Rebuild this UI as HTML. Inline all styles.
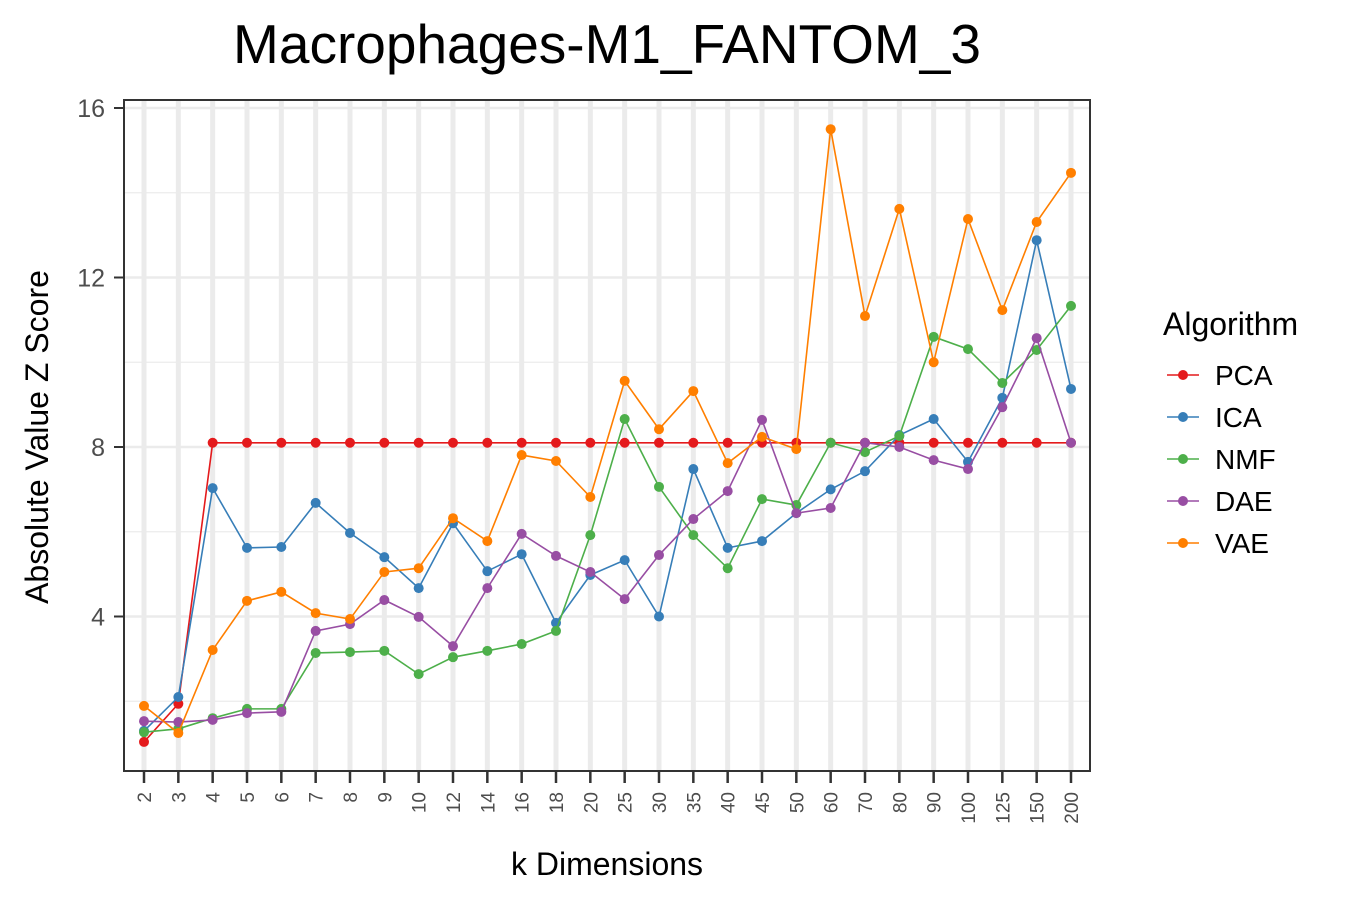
<!DOCTYPE html>
<html><head><meta charset="utf-8"><style>
body{margin:0;background:#fff;font-family:"Liberation Sans",Arial,sans-serif}
</style></head><body>
<svg id="chart" width="1350" height="900" xmlns="http://www.w3.org/2000/svg" font-family="Liberation Sans, Arial, sans-serif">
<text x="607" y="63" font-size="55" text-anchor="middle">Macrophages-M1_FANTOM_3</text>
<g id="grid"></g>
<g id="series"></g>
<rect x="124" y="100" width="966" height="671" fill="none" stroke="#333" stroke-width="2"/>
<g id="axes"></g>
<text x="607" y="875" font-size="32" text-anchor="middle">k Dimensions</text>
<text transform="translate(48,437) rotate(-90)" font-size="32" text-anchor="middle">Absolute Value Z Score</text>
<text x="1163" y="335" font-size="32">Algorithm</text>
<g id="legend"></g>
</svg>
<script>
const categories=["2","3","4","5","6","7","8","9","10","12","14","16","18","20","25","30","35","40","45","50","60","70","80","90","100","125","150","200"];
const yTicks=[4,8,12,16];
const seriesNames=["PCA","ICA","NMF","DAE","VAE"];
const seriesColors=["#e41a1c","#377eb8","#4daf4a","#984ea3","#ff7f00"];
const pca=[1.04,1.94,8.1,8.1,8.1,8.1,8.1,8.1,8.1,8.1,8.1,8.1,8.1,8.1,8.1,8.1,8.1,8.1,8.1,8.1,8.1,8.1,8.1,8.1,8.1,8.1,8.1,8.1];
const ica=[1.3,2.1,7.03,5.62,5.64,6.68,5.97,5.4,4.67,6.2,5.07,5.47,3.85,4.98,5.33,4.0,7.48,5.62,5.78,6.44,7.0,7.43,8.28,8.66,7.65,9.16,12.88,9.37];
const nmf=[1.27,1.35,1.6,1.82,1.82,3.14,3.16,3.19,2.64,3.04,3.19,3.35,3.66,5.92,8.66,7.06,5.92,5.14,6.77,6.63,8.1,7.88,8.26,10.6,10.31,9.51,10.29,11.33];
const dae=[1.53,1.51,1.56,1.72,1.75,3.66,3.82,4.39,3.99,3.3,4.67,5.95,5.43,5.05,4.41,5.45,6.3,6.96,8.64,6.44,6.56,8.1,8.0,7.69,7.48,8.94,10.57,8.1];
const vae=[1.89,1.25,3.21,4.37,4.58,4.08,3.94,5.05,5.14,6.32,5.78,7.81,7.67,6.82,9.56,8.42,9.32,7.62,8.24,7.95,15.5,11.09,13.62,10.0,13.38,11.23,13.31,14.47];
const allSeries=[pca,ica,nmf,dae,vae];
const NS="http://www.w3.org/2000/svg";
const x=i=>144+i*(1071-144)/(categories.length-1);
const y=v=>786-v*(786-108)/16;
function mk(tag,attrs,parent){const e=document.createElementNS(NS,tag);for(const k in attrs)e.setAttribute(k,attrs[k]);parent.appendChild(e);return e;}
const grid=document.getElementById('grid'),axes=document.getElementById('axes'),ser=document.getElementById('series'),leg=document.getElementById('legend');
[2,6,10,14].forEach(v=>{const l=mk('line',{x1:124,x2:1090,y1:y(v),y2:y(v),stroke:'#ebebeb','stroke-width':1.2},grid);

});
yTicks.forEach(v=>{const l=mk('line',{x1:124,x2:1090,y1:y(v),y2:y(v),stroke:'#ebebeb','stroke-width':2.5},grid);


const t=mk('line',{x1:114,x2:124,y1:y(v),y2:y(v),stroke:'#333','stroke-width':2},axes);


const tx=mk('text',{x:105,y:y(v)+9,'font-size':25,'text-anchor':'end',fill:'#4d4d4d'},axes);tx.textContent=v;

});
categories.forEach((c,i)=>{const l=mk('line',{x1:x(i),x2:x(i),y1:100,y2:771,stroke:'#ebebeb','stroke-width':5},grid);


const t=mk('line',{x1:x(i),x2:x(i),y1:771,y2:783,stroke:'#333','stroke-width':2.5},axes);


const tx=mk('text',{transform:`translate(${x(i)+7},792) rotate(-90)`,'font-size':19,'text-anchor':'end',fill:'#4d4d4d'},axes);tx.textContent=c;

});
allSeries.forEach((d,s)=>{const col=seriesColors[s];
const p=mk('polyline',{points:d.map((v,i)=>x(i)+','+y(v)).join(' '),fill:'none',stroke:col,'stroke-width':1.6},ser);


d.forEach((v,i)=>{const c=mk('circle',{cx:x(i),cy:y(v),r:5,fill:col},ser);

});
const ly=375+s*42;
const g=mk('g',{},leg);


mk('line',{x1:1167,x2:1199,y1:ly,y2:ly,stroke:col,'stroke-width':1.6},g);
mk('circle',{cx:1183,cy:ly,r:5,fill:col},g);
const t=mk('text',{x:1215,y:ly+10,'font-size':28},g);t.textContent=seriesNames[s];});
</script>
</body></html>
